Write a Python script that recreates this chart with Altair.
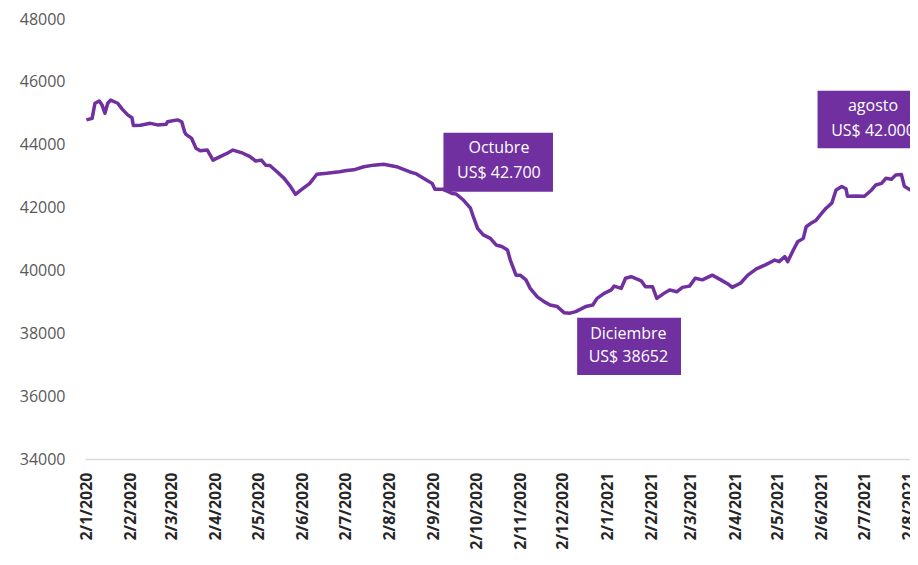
import altair as alt
import pandas as pd

# ---- series ----
dates = [
    "2020-01-02", "2020-01-06", "2020-01-08", "2020-01-11", "2020-01-13", "2020-01-15", "2020-01-17",
    "2020-01-19", "2020-01-24", "2020-01-27", "2020-01-31", "2020-02-03", "2020-02-04", "2020-02-09",
    "2020-02-16", "2020-02-21", "2020-02-27", "2020-02-28", "2020-03-06", "2020-03-09", "2020-03-11",
    "2020-03-12", "2020-03-16", "2020-03-19", "2020-03-22", "2020-03-27", "2020-03-31", "2020-04-05",
    "2020-04-10", "2020-04-14", "2020-04-21", "2020-04-26", "2020-04-30", "2020-05-04", "2020-05-07",
    "2020-05-10", "2020-05-15", "2020-05-20", "2020-05-24", "2020-05-28", "2020-05-31", "2020-06-07",
    "2020-06-12", "2020-06-19", "2020-06-28", "2020-07-03", "2020-07-08", "2020-07-15", "2020-07-22",
    "2020-07-29", "2020-08-07", "2020-08-16", "2020-08-21", "2020-08-28", "2020-09-01", "2020-09-03",
    "2020-09-09", "2020-09-15", "2020-09-18", "2020-09-23", "2020-09-28", "2020-09-30", "2020-10-03",
    "2020-10-07", "2020-10-12", "2020-10-16", "2020-10-20", "2020-10-24", "2020-10-26", "2020-10-30",
    "2020-11-02", "2020-11-06", "2020-11-09", "2020-11-14", "2020-11-19", "2020-11-23", "2020-11-28",
    "2020-12-03", "2020-12-07", "2020-12-11", "2020-12-18", "2020-12-23", "2020-12-26", "2020-12-31",
    "2021-01-05", "2021-01-07", "2021-01-12", "2021-01-15", "2021-01-19", "2021-01-26", "2021-01-29",
    "2021-02-03", "2021-02-06", "2021-02-11", "2021-02-15", "2021-02-20", "2021-02-24", "2021-03-01",
    "2021-03-05", "2021-03-10", "2021-03-17", "2021-03-23", "2021-03-28", "2021-03-31", "2021-04-06",
    "2021-04-11", "2021-04-17", "2021-04-23", "2021-04-30", "2021-05-03", "2021-05-07", "2021-05-09",
    "2021-05-13", "2021-05-16", "2021-05-20", "2021-05-22", "2021-05-26", "2021-05-29", "2021-06-02",
    "2021-06-05", "2021-06-09", "2021-06-12", "2021-06-16", "2021-06-19", "2021-06-20", "2021-06-26",
    "2021-07-02", "2021-07-07", "2021-07-10", "2021-07-14", "2021-07-17", "2021-07-21", "2021-07-24",
    "2021-07-28", "2021-07-30", "2021-08-04", "2021-08-08", "2021-08-10",
]
prices = [
    44790, 44840, 45320, 45390, 45260, 45000, 45320,
    45420, 45320, 45140, 44950, 44860, 44610, 44620,
    44680, 44630, 44650, 44730, 44790, 44730, 44410,
    44330, 44200, 43890, 43810, 43830, 43510, 43620,
    43730, 43830, 43730, 43620, 43480, 43510, 43350,
    43340, 43140, 42930, 42700, 42420, 42530, 42770,
    43060, 43090, 43140, 43180, 43200, 43300, 43350,
    43380, 43300, 43140, 43070, 42880, 42770, 42580,
    42580, 42450, 42430, 42240, 41980, 41710, 41340,
    41130, 41020, 40810, 40760, 40650, 40330, 39850,
    39850, 39700, 39430, 39160, 39000, 38900, 38850,
    38650, 38640, 38690, 38850, 38900, 39110, 39270,
    39380, 39500, 39430, 39750, 39800, 39670, 39480,
    39480, 39110, 39270, 39380, 39320, 39460, 39500,
    39750, 39700, 39850, 39700, 39570, 39460, 39600,
    39850, 40050, 40170, 40330, 40280, 40440, 40280,
    40650, 40910, 41020, 41390, 41520, 41600, 41820,
    41980, 42140, 42560, 42670, 42600, 42360, 42370,
    42360, 42560, 42720, 42770, 42930, 42900, 43040,
    43050, 42680, 42540, 42450, 42080,
]

# ---- axis ticks ----
tick_dates = [
    (2020, 1), (2020, 2), (2020, 3), (2020, 4), (2020, 5), (2020, 6), (2020, 7),
    (2020, 8), (2020, 9), (2020, 10), (2020, 11), (2020, 12),
    (2021, 1), (2021, 2), (2021, 3), (2021, 4), (2021, 5), (2021, 6), (2021, 7), (2021, 8),
]
y_ticks = [34000, 36000, 38000, 40000, 42000, 44000, 46000, 48000]

# ---- annotations ----
ann_titles = ["Octubre", "Diciembre", "agosto"]
ann_amounts = ["US$ 42.700", "US$ 38652", "US$ 42.000"]
ann_center = ["2020-10-18", "2021-01-17", "2021-07-08"]
ann_title_val = [43895, 37977, 45232]
ann_amount_val = [43100, 37245, 44436]
ann_box_start = ["2020-09-09", "2020-12-12", "2021-05-30"]
ann_box_end = ["2020-11-25", "2021-02-23", "2021-08-16"]
ann_box_top = [44382, 38495, 45718]
ann_box_bottom = [42505, 36672, 43886]

PURPLE = "#7030A0"
FONT = "Open Sans"

df = pd.DataFrame({"date": dates, "price": prices})
boxes = pd.DataFrame({"x": ann_box_start, "x2": ann_box_end, "y": ann_box_top, "y2": ann_box_bottom})
labels = pd.DataFrame({
    "date": ann_center * 2,
    "val": ann_title_val + ann_amount_val,
    "txt": ann_titles + ann_amounts,
})

xscale = alt.Scale(
    type="utc",
    domain=[alt.DateTime(year=2020, month=1, date=1, utc=True),
            alt.DateTime(year=2021, month=8, date=3, utc=True)],
)
yscale = alt.Scale(domain=[34000, 48000], nice=False, zero=False)

xaxis = alt.Axis(
    values=[alt.DateTime(year=y, month=m, date=2, utc=True) for y, m in tick_dates],
    labelExpr="utcFormat(datum.value, '%-d/%-m/%Y')",
    labelAngle=-90,
    labelFont=FONT,
    labelFontSize=16,
    labelFontWeight="bold",
    labelColor="#262626",
    labelPadding=13,
    labelOverlap=False,
    labelBound=False,
    ticks=False,
    grid=False,
    domainColor="#d9d9d9",
    domainWidth=1.5,
    title=None,
)
yaxis = alt.Axis(
    values=y_ticks,
    format="d",
    labelFont=FONT,
    labelFontSize=16,
    labelColor="#595959",
    labelPadding=20,
    ticks=False,
    grid=False,
    domain=False,
    title=None,
)

line = alt.Chart(df).mark_line(color=PURPLE, strokeWidth=3.5, strokeJoin="round", clip=True).encode(
    x=alt.X("date:T", scale=xscale, axis=xaxis),
    y=alt.Y("price:Q", scale=yscale, axis=yaxis),
)

rects = alt.Chart(boxes).mark_rect(color=PURPLE, clip=True).encode(
    x=alt.X("x:T", scale=xscale),
    x2="x2:T",
    y=alt.Y("y:Q", scale=yscale),
    y2="y2:Q",
)

texts = alt.Chart(labels).mark_text(
    color="white", font=FONT, fontSize=16, align="center", baseline="middle", clip=True
).encode(
    x=alt.X("date:T", scale=xscale),
    y=alt.Y("val:Q", scale=yscale),
    text="txt:N",
)

chart = alt.layer(line, rects, texts).properties(
    width=825,
    height=440,
    padding={"left": 77, "top": 11, "right": 0, "bottom": 100},
    autosize=alt.AutoSizeParams(type="none"),
    background="white",
).configure_view(stroke=None)

chart.save("out.html", embed_options={"renderer": "svg", "actions": False})
